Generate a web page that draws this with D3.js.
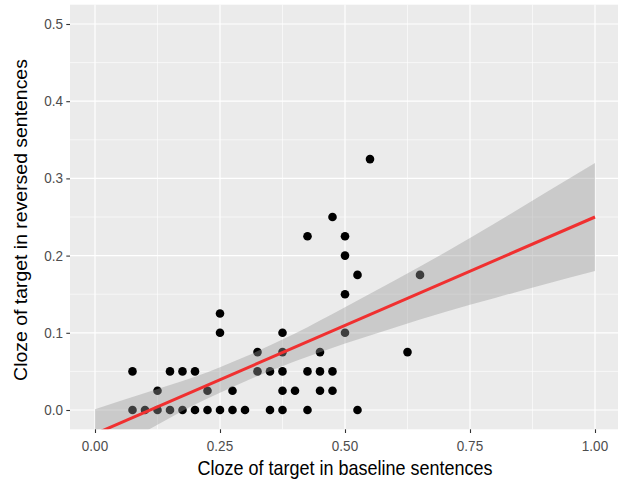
<!DOCTYPE html>
<html>
  <head>
    <meta charset="utf-8">
    <script src="https://d3js.org/d3.v7.min.js"></script>
    <style type="text/css">
    body { margin: 0; background: #fff; }
    text { font-family: "Liberation Sans", Arial, sans-serif; }
    </style>
  </head>
  <body>
    <div id="chart"></div>
    <script>
      // points (cloze steps of 0.025)
      var baseline = [0.075, 0.075, 0.1, 0.125, 0.15, 0.175, 0.2, 0.225, 0.25, 0.275, 0.3, 0.35,
                      0.125, 0.15, 0.175, 0.2, 0.225, 0.25, 0.25, 0.275,
                      0.325, 0.325,
                      0.5, 0.375, 0.5, 0.375, 0.45, 0.625,
                      0.35, 0.375, 0.425, 0.45, 0.475,
                      0.375, 0.4, 0.45, 0.475,
                      0.375, 0.425, 0.525,
                      0.55, 0.475, 0.425, 0.5, 0.5, 0.525, 0.65];
      var reversed = [0.05, 0, 0, 0, 0, 0, 0, 0, 0, 0, 0, 0,
                      0.025, 0.05, 0.05, 0.05, 0.025, 0.1, 0.125, 0.025,
                      0.075, 0.05,
                      0.15, 0.1, 0.1, 0.075, 0.075, 0.075,
                      0.05, 0.05, 0.05, 0.05, 0.05,
                      0.025, 0.025, 0.025, 0.025,
                      0, 0, 0,
                      0.325, 0.25, 0.225, 0.225, 0.2, 0.175, 0.175];

      // fitted line and its confidence band
      var fitX = [0, 1];
      var fitY = [-0.031, 0.25];
      var bandX  = [0, 0.1, 0.2, 0.3, 0.4, 0.5, 0.6, 0.7, 0.8, 0.9, 1.0];
      var bandLo = [-0.063, -0.028, 0.007, 0.037, 0.063, 0.086, 0.107, 0.127, 0.145, 0.163, 0.180];
      var bandHi = [0.001, 0.022, 0.043, 0.069, 0.099, 0.133, 0.168, 0.204, 0.242, 0.281, 0.320];

      var xTicks = [0, 0.25, 0.5, 0.75, 1];
      var yTicks = [0, 0.1, 0.2, 0.3, 0.4, 0.5];
      var xMinor = [0.125, 0.375, 0.625, 0.875];
      var yMinor = [0.05, 0.15, 0.25, 0.35, 0.45];

      var width = 618, height = 484;
      var sy = 1.08; // picture looks a bit stretched vertically

      var svg = d3.select('#chart').append('svg')
          .attr('width', width)
          .attr('height', height);

      var x = d3.scaleLinear().domain([-0.05, 1.05]).range([70, 620]);
      var y = d3.scaleLinear().domain([-0.025, 0.525]).range([429.3, 4.7]);

      svg.append('clipPath').attr('id', 'panel')
        .append('rect')
          .attr('x', x.range()[0]).attr('y', y.range()[1])
          .attr('width', x.range()[1] - x.range()[0])
          .attr('height', y.range()[0] - y.range()[1]);

      svg.append('rect')
          .attr('x', x.range()[0]).attr('y', y.range()[1])
          .attr('width', x.range()[1] - x.range()[0])
          .attr('height', y.range()[0] - y.range()[1])
          .style('fill', '#ebebeb');

      var grid = svg.append('g');
      grid.selectAll('.xminor').data(xMinor).enter().append('line')
          .attr('x1', x).attr('x2', x)
          .attr('y1', y.range()[0]).attr('y2', y.range()[1])
          .style('stroke', '#fff').style('stroke-width', 0.6);
      grid.selectAll('.yminor').data(yMinor).enter().append('line')
          .attr('y1', y).attr('y2', y)
          .attr('x1', x.range()[0]).attr('x2', x.range()[1])
          .style('stroke', '#fff').style('stroke-width', 0.6);
      grid.selectAll('.xmajor').data(xTicks).enter().append('line')
          .attr('x1', x).attr('x2', x)
          .attr('y1', y.range()[0]).attr('y2', y.range()[1])
          .style('stroke', '#fff').style('stroke-width', 1.2);
      grid.selectAll('.ymajor').data(yTicks).enter().append('line')
          .attr('y1', y).attr('y2', y)
          .attr('x1', x.range()[0]).attr('x2', x.range()[1])
          .style('stroke', '#fff').style('stroke-width', 1.2);

      var plot = svg.append('g').attr('clip-path', 'url(#panel)');

      plot.selectAll('circle')
          .data(baseline)
          .enter()
          .append('circle')
          .attr('cx', function(d) { return x(d); })
          .attr('cy', function(d, i) { return y(reversed[i]); })
          .attr('r', 4.3)
          .style('fill', '#000');

      // band drawn over the points, like geom_smooth does
      var area = d3.area()
          .x(function(d, i) { return x(bandX[i]); })
          .y0(function(d, i) { return y(bandLo[i]); })
          .y1(function(d, i) { return y(bandHi[i]); })
          .curve(d3.curveMonotoneX);
      plot.append('path')
          .attr('d', area(bandX))
          .style('fill', '#999')
          .style('fill-opacity', 0.4);

      var line = d3.line()
          .x(function(d, i) { return x(fitX[i]); })
          .y(function(d, i) { return y(fitY[i]); });
      plot.append('path')
          .attr('d', line(fitX))
          .style('fill', 'none')
          .style('stroke', '#f03030')
          .style('stroke-width', 3);

      // axes, drawn by hand in ggplot's style
      var xAxis = svg.append('g').attr('transform', 'translate(0,' + y.range()[0] + ')')
          .call(d3.axisBottom(x).tickValues(xTicks).tickSize(3.7).tickPadding(0)
                .tickFormat(d3.format('.2f')));
      var yAxis = svg.append('g').attr('transform', 'translate(' + x.range()[0] + ',0)')
          .call(d3.axisLeft(y).tickValues(yTicks).tickSize(3.7).tickPadding(0)
                .tickFormat(d3.format('.1f')));
      [xAxis, yAxis].forEach(function(a) {
        a.select('.domain').remove();
        a.selectAll('line').style('stroke', '#333').style('stroke-width', 1.1);
        a.selectAll('text').remove();
      });

      svg.selectAll('.xlab').data(xTicks).enter().append('text')
          .attr('transform', function(d) { return 'translate(' + x(d) + ',451) scale(1,' + sy + ')'; })
          .attr('text-anchor', 'middle')
          .style('font-size', '13.5px')
          .style('fill', '#4d4d4d')
          .text(d3.format('.2f'));
      svg.selectAll('.ylab').data(yTicks).enter().append('text')
          .attr('transform', function(d) { return 'translate(63,' + (y(d) + 5) + ') scale(1,' + sy + ')'; })
          .attr('text-anchor', 'end')
          .style('font-size', '13.5px')
          .style('fill', '#4d4d4d')
          .text(d3.format('.1f'));

      svg.append('text')
          .attr('transform', 'translate(345,475) scale(1,' + sy + ')')
          .attr('text-anchor', 'middle')
          .style('font-size', '18px')
          .style('fill', '#000')
          .text('Cloze of target in baseline sentences');
      svg.append('text')
          .attr('transform', 'translate(27,220) scale(1,' + sy + ') rotate(-90)')
          .attr('text-anchor', 'middle')
          .style('font-size', '18px')
          .style('fill', '#000')
          .text('Cloze of target in reversed sentences');
    </script>
  </body>
</html>
